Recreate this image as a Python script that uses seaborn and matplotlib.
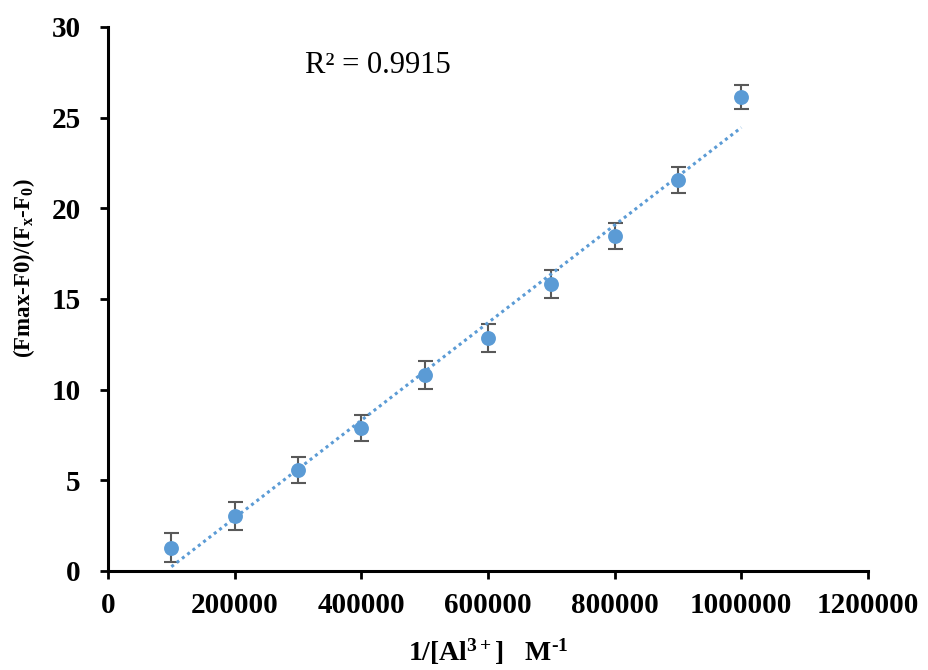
import numpy as np
import pandas as pd
import seaborn as sns
import matplotlib
matplotlib.use("Agg")
import matplotlib.pyplot as plt

x_vals = [100000, 200000, 300000, 400000, 500000, 600000, 700000, 800000, 900000, 1000000]
y_vals = [1.27, 3.03, 5.57, 7.89, 10.81, 12.85, 15.83, 18.48, 21.57, 26.14]
y_err = [0.8, 0.75, 0.7, 0.7, 0.78, 0.75, 0.75, 0.72, 0.72, 0.65]
x_ticks = [0, 200000, 400000, 600000, 800000, 1000000, 1200000]
y_ticks = [0, 5, 10, 15, 20, 25, 30]
r2_label = "R² = 0.9915"

sns.set_style("white")
plt.rcParams['font.family'] = ['Liberation Serif', 'DejaVu Serif']
plt.rcParams['mathtext.fontset'] = 'custom'
plt.rcParams['mathtext.rm'] = 'Liberation Serif:bold'
plt.rcParams['mathtext.it'] = 'Liberation Serif:bold'
plt.rcParams['mathtext.bf'] = 'Liberation Serif:bold'
plt.rcParams['mathtext.default'] = 'rm'
for k in ['text.color', 'axes.labelcolor', 'xtick.color', 'ytick.color']:
    plt.rcParams[k] = 'black'

df = pd.DataFrame({"x": x_vals, "y": y_vals, "err": y_err})
slope, intercept = np.polyfit(df["x"], df["y"], 1)
fit = pd.DataFrame({"x": [x_vals[0], x_vals[-1]]})
fit["y"] = slope * fit["x"] + intercept

fig = plt.figure(figsize=(9.29, 6.70), dpi=100)
ax = fig.add_axes([0.1163, 0.1478, 0.818, 0.812])

blue = "#5B9BD5"
ax.errorbar(df["x"], df["y"], yerr=df["err"], fmt="none", ecolor="#595959",
            elinewidth=1.5, capsize=5.4, capthick=1.5, zorder=2)
sns.lineplot(data=fit, x="x", y="y", ax=ax, color=blue, linestyle=(0, (1, 1.2)),
             linewidth=2.2, zorder=3)
sns.scatterplot(data=df, x="x", y="y", ax=ax, color=blue, s=115,
                edgecolor=blue, linewidth=0, zorder=4)

ax.set_xlim(0, 1200000)
ax.set_ylim(0, 30)
ax.set_xticks(x_ticks)
ax.set_yticks(y_ticks)
ax.set_xticklabels([str(t) for t in x_ticks])
ax.set_yticklabels([str(t) for t in y_ticks])

for s in ["top", "right"]:
    ax.spines[s].set_visible(False)
for s in ["left", "bottom"]:
    ax.spines[s].set_color("black")
    ax.spines[s].set_linewidth(2.2)

ax.tick_params(axis="both", direction="out", length=5.8, width=2, color="black",
               labelsize=21)
ax.tick_params(axis="x", pad=9)
ax.tick_params(axis="y", pad=14)
ax.tick_params(axis="both", which="both", bottom=True, left=True)
for lbl in ax.get_xticklabels() + ax.get_yticklabels():
    lbl.set_fontweight("bold")

ax.set_xlabel(r"1/[Al$^{3+}$]   M$^{\text{-}1}$", fontsize=20, fontweight="bold", labelpad=13)
ax.set_ylabel(r"(Fmax-F0)/(F$_x$-F$_0$)", fontsize=16.5, fontweight="bold")
ax.yaxis.set_label_coords(-0.093, 0.557)

ax.text(311000, 27.9, r2_label, fontsize=22, va="center", ha="left",
        family=["Liberation Serif", "DejaVu Serif"], color="black")

fig.savefig("out.png", dpi=100)
